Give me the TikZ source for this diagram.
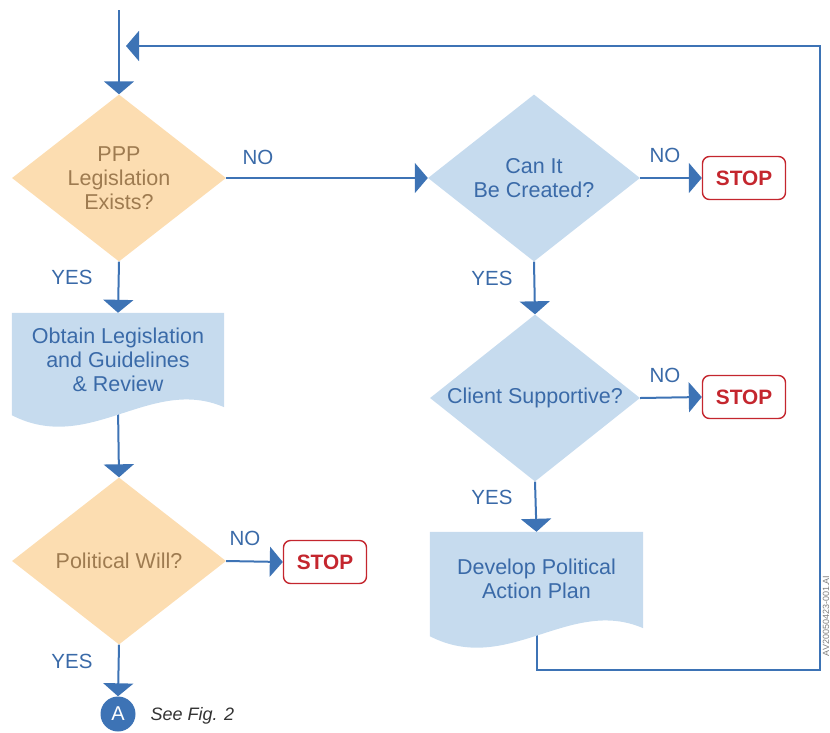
\documentclass[tikz,border=0pt]{standalone}
\usepackage{fontspec}
\setmainfont{Liberation Sans}
\usetikzlibrary{shapes.geometric,arrows.meta,calc,backgrounds}

\definecolor{flowblue}{HTML}{3D73B5}
\definecolor{bluefill}{HTML}{C6DBEE}
\definecolor{bluetext}{HTML}{3A6AA8}
\definecolor{orangefill}{HTML}{FCDDB1}
\definecolor{orangetext}{HTML}{9E7B50}
\definecolor{stopred}{HTML}{C4262E}
\definecolor{notegray}{HTML}{333333}

\tikzset{
  flow/.style={draw=flowblue, line width=2pt, -{Triangle[width=30pt,length=13pt]}},
  decision/.style={diamond, aspect=1.28, inner sep=0pt, align=center,
    minimum width=214pt, minimum height=167pt,
    font=\fontsize{21.5}{24}\selectfont},
  orangedec/.style={decision, fill=orangefill, text=orangetext},
  bluedec/.style={decision, fill=bluefill, text=bluetext},
  docbox/.style={rectangle, inner sep=0pt, align=center, text=bluetext,
    font=\fontsize{21.5}{24}\selectfont},
  docshape/.style={fill=bluefill},
  stopbox/.style={rectangle, rounded corners=7pt, draw=stopred, line width=1.4pt,
    fill=white, text=stopred, minimum width=83pt, minimum height=43pt,
    font=\bfseries\fontsize{20.8}{24}\selectfont},
  answer/.style={text=bluetext, font=\fontsize{20.5}{24}\selectfont, inner sep=0pt},
  connector/.style={circle, fill=flowblue, text=white, minimum size=35pt, inner sep=0pt,
    font=\fontsize{20}{24}\selectfont},
}

\begin{document}
\begin{tikzpicture}[x=1pt, y=-1pt]
  \useasboundingbox (0,0) rectangle (830,732);

  % decisions
  \node[orangedec] (d1) at (119,178) {PPP\\Legislation\\Exists?};
  \node[orangedec] (d3) at (119,561) {Political Will?};
  \node[bluedec, minimum width=212pt] (d2) at (534,178) {Can It\\Be Created?};
  \node[bluedec, minimum width=210pt] (d4) at (535,398) {Client Supportive?};

  % documents (wavy bottom edge)
  \node[docbox, minimum width=212pt, minimum height=94pt] (doc1) at (118,360) {};
  \fill[docshape] (doc1.north west) -- (doc1.north east) -- (doc1.south east)
    .. controls +(-74,-32) and +(78,40) .. ($(doc1.south west)+(0,8)$) -- cycle;
  \node[docbox] (doc1text) at (doc1) {Obtain Legislation\\and Guidelines\\\& Review};

  \node[docbox, minimum width=213pt, minimum height=96pt] (doc2) at (536.5,580) {};
  \fill[docshape] (doc2.north west) -- (doc2.north east) -- (doc2.south east)
    .. controls +(-74,-32) and +(78,40) .. ($(doc2.south west)+(0,8)$) -- cycle;
  \node[docbox] (doc2text) at (536.5,579) {Develop Political\\Action Plan};

  % terminals
  \node[stopbox] (stop2) at (744,178) {STOP};
  \node[stopbox] (stop4) at (744,397) {STOP};
  \node[stopbox] (stop3) at (325,562) {STOP};

  \node[connector] (A) at (118,714) {A};
  \node[text=notegray, font=\itshape\fontsize{18}{22}\selectfont, anchor=west] (seefig) at (147,716) {See Fig. 2};

  % answer labels
  \node[answer] (no1) at (258,157) {NO};
  \node[answer] (no2) at (665,155) {NO};
  \node[answer] (no3) at (245,538) {NO};
  \node[answer] (no4) at (665,375) {NO};
  \node[answer] (yes1) at (72,277) {YES};
  \node[answer] (yes2) at (492,278) {YES};
  \node[answer] (yes3) at (492,497) {YES};
  \node[answer] (yes4) at (72,661) {YES};

  % drawing code along the right edge
  \node[rotate=90, text=gray, inner sep=0pt, font=\fontsize{9}{10}\selectfont] (code) at (826,616) {AV20050423-001.AI};

  % connectors
  \coordinate (entry) at (119,10);
  \coordinate (lpA) at (820,670);
  \coordinate (lpB) at (820,46);
  \coordinate (lpEnd) at (126,46);
  \begin{scope}[on background layer]
    \draw[flow] (entry) -- (d1.north);
    \draw[flow] (d1.east) -- (d2.west);
    \draw[flow] (d2.east) -- (stop2.west);
    \draw[flow] (d1.south) -- (doc1.north);
    \draw[flow] (doc1.south) -- (d3.north);
    \draw[flow] (d3.east) -- (stop3.west);
    \draw[flow] (d3.south) -- (A.north);
    \draw[flow] (d2.south) -- (d4.north);
    \draw[flow] (d4.east) -- (stop4.west);
    \draw[flow] (d4.south) -- (doc2.north);
    \draw[flow] (doc2.south) |- (lpA) -- (lpB) -- (lpEnd);
  \end{scope}
\end{tikzpicture}
\end{document}
